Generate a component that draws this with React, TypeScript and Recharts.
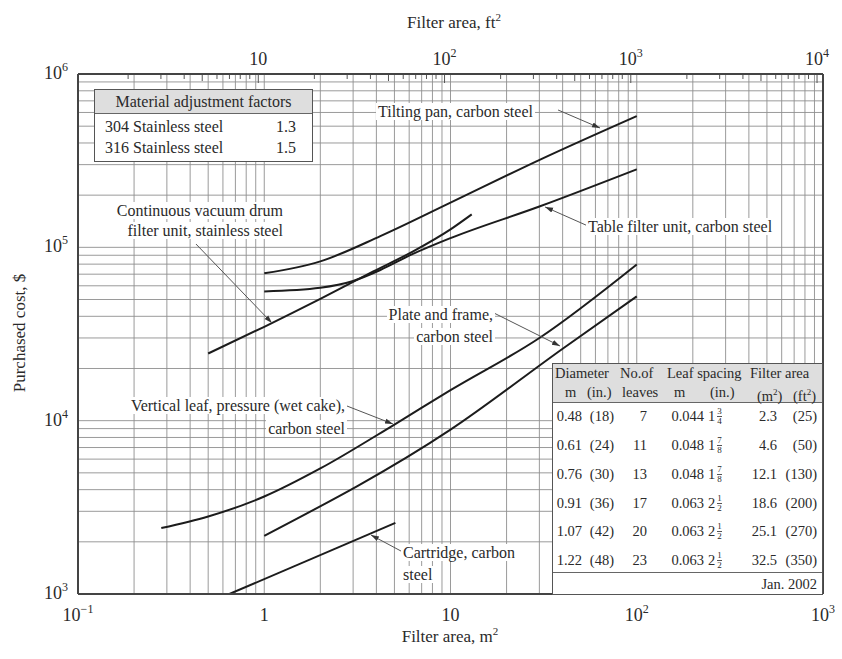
import React from "react";
import { LineChart, Line, XAxis, YAxis, CartesianGrid, ReferenceLine } from "recharts";

// ---- curves: filter area (m2) -> purchased cost ($) ----
const tiltingPanArea = [1, 2, 4.2, 10, 30.5, 100];
const tiltingPanCost = [70800, 83000, 116000, 181000, 322000, 572000];

const tableFilterArea = [1, 2, 3, 4.2, 6.2, 10, 30, 100];
const tableFilterCost = [55700, 58500, 64000, 74000, 91000, 113000, 172000, 282000];

const drumArea = [0.5, 1, 2, 3.85, 6.3, 10, 13];
const drumCost = [24400, 34800, 50400, 72600, 94800, 127000, 155000];

const vertLeafArea = [0.28, 0.5, 1, 2, 5, 10, 30, 100];
const vertLeafCost = [2400, 2800, 3650, 5300, 9500, 15000, 30000, 79700];

const plateArea = [1, 10, 40, 100];
const plateCost = [2165, 8870, 26000, 52100];

const cartridgeArea = [0.65, 5.06];
const cartridgeCost = [1000, 2570];

// ---- axes ----
const areaMajor = [0.1, 1, 10, 100, 1000];
const costMajor = [1e3, 1e4, 1e5, 1e6];
const ft2Major = [10, 100, 1000, 10000];
const minorSteps = [2, 3, 4, 5, 6, 7, 8, 9];
const M2_TO_FT2 = 10.764;

// ---- tables ----
const materials = ["304 Stainless steel", "316 Stainless steel"];
const materialFactors = ["1.3", "1.5"];

const diameterM = ["0.48", "0.61", "0.76", "0.91", "1.07", "1.22"];
const diameterIn = ["(18)", "(24)", "(30)", "(36)", "(42)", "(48)"];
const leafCount = ["7", "11", "13", "17", "20", "23"];
const spacingM = ["0.044", "0.048", "0.048", "0.063", "0.063", "0.063"];
const spacingIn = [["1", "3", "4"], ["1", "7", "8"], ["1", "7", "8"], ["2", "1", "2"], ["2", "1", "2"], ["2", "1", "2"]];
const areaM2 = ["2.3", "4.6", "12.1", "18.6", "25.1", "32.5"];
const areaFt2 = ["(25)", "(50)", "(130)", "(200)", "(270)", "(350)"];

// leader arrows, in data units (m2, $)
const arrows = [
  { from: [37.8, 620000], to: [63.5, 488000] },
  { from: [54.7, 132800], to: [32.2, 171000] },
  { from: [0.43, 104500], to: [1.1, 36600] },
  { from: [17.1, 41800], to: [38.7, 26970] },
  { from: [2.78, 12150], to: [4.91, 9570] },
  { from: [5.42, 1770], to: [3.74, 2190] },
];

const SERIF = '"Liberation Serif", "Times New Roman", "DejaVu Serif", serif';
const INK = "#2a2a2a";
const CURVE = "#1c1c1c";

const pts = (xs: number[], ys: number[]) => xs.map((x, i) => ({ x, y: ys[i] }));
const withMinors = (majors: number[], lo: number, hi: number) => {
  const out: number[] = [];
  for (const m of majors) {
    out.push(m);
    for (const s of minorSteps) out.push(m * s);
  }
  for (const s of minorSteps) out.push((majors[0] / 10) * s);
  return out.filter((v) => v >= lo * 0.9999 && v <= hi * 1.0001).sort((a, b) => a - b);
};
const isMajor = (v: number, majors: number[]) => majors.some((m) => Math.abs(v - m) / m < 1e-6);

const areaTicks = withMinors(areaMajor, 0.1, 1000);
const costTicks = withMinors(costMajor, 1e3, 1e6);
const ft2Ticks = withMinors(ft2Major, 0.1 * M2_TO_FT2, 1000 * M2_TO_FT2);

function PowText({ x, y, value, anchor = "middle" }: { x: number; y: number; value: number; anchor?: string }) {
  const e = Math.round(Math.log10(value));
  const base = { x, y, textAnchor: anchor as any, fontFamily: SERIF, fontSize: 18, fill: INK };
  if (e === 0) return <text {...base}>1</text>;
  if (e === 1) return <text {...base}>10</text>;
  return (
    <text {...base}>
      <tspan>10</tspan>
      <tspan dy={-8} fontSize={12}>{e < 0 ? "\u2212" + -e : String(e)}</tspan>
    </text>
  );
}

function BottomTick(p: any) {
  const v = p.payload?.value;
  if (!isMajor(v, areaMajor)) return <g />;
  return <PowText x={p.x} y={p.y + 27} value={v} />;
}

function LeftTick(p: any) {
  const v = p.payload?.value;
  if (!isMajor(v, costMajor)) return <g />;
  return <PowText x={p.x - 10} y={p.y + 5} value={v} anchor="end" />;
}

// ft2 scale along the top edge, drawn on the m2 axis
function Ft2Tick({ p, v }: { p: any; v: number }) {
  const major = isMajor(v, ft2Major);
  const mant = Math.round(v / Math.pow(10, Math.floor(Math.log10(v) + 1e-9)));
  const len = major ? 9 : mant === 5 ? 7 : 5;
  const top = Math.min(p.y1, p.y2);
  return (
    <g>
      <line x1={p.x1} x2={p.x1} y1={top} y2={top + len} stroke="#555" strokeWidth={1} />
      {major && <PowText x={p.x1} y={top - 9} value={v} />}
    </g>
  );
}

const labelBox: React.CSSProperties = {
  position: "absolute",
  fontFamily: SERIF,
  fontSize: 16,
  color: INK,
  whiteSpace: "nowrap",
};
const bg: React.CSSProperties = { background: "#fff", padding: "0 2px" };

function Note({ lines, left, top, width, align, lh = 21 }: { lines: string[]; left: number; top: number; width: number; align: "left" | "right"; lh?: number }) {
  return (
    <div style={{ ...labelBox, left, top, width, textAlign: align, lineHeight: lh + "px" }}>
      {lines.map((l, i) => (
        <div key={i}><span style={bg}>{l}</span></div>
      ))}
    </div>
  );
}

function Frac({ w, n, d }: { w: string; n: string; d: string }) {
  return (
    <span style={{ display: "inline-flex", alignItems: "center" }}>
      <span>{w}</span>
      <span style={{ display: "inline-flex", flexDirection: "column", fontSize: 9, lineHeight: "9px", marginLeft: 2, textAlign: "center" }}>
        <span style={{ borderBottom: "0.8px solid #555" }}>{n}</span>
        <span>{d}</span>
      </span>
    </span>
  );
}

function Cell({ right, left, cy, children }: { right?: number; left?: number; cy: number; children: React.ReactNode }) {
  const s: React.CSSProperties = { position: "absolute", top: cy - 10, height: 20, lineHeight: "20px", whiteSpace: "nowrap" };
  if (right !== undefined) Object.assign(s, { left: right - 80, width: 80, textAlign: "right" });
  else Object.assign(s, { left });
  return <div style={s}>{children}</div>;
}

function SpecTable() {
  const rowY = [52, 81, 110, 139, 167, 196];
  return (
    <div style={{ position: "absolute", left: 552, top: 363, width: 271, height: 232, boxSizing: "border-box", border: "1.5px solid #555", background: "#fff", fontFamily: SERIF, fontSize: 14.5, color: INK }}>
      <div style={{ position: "absolute", left: 0, top: 0, right: 0, height: 38, background: "#dedede", borderBottom: "1.5px solid #666" }} />
      <Cell left={2} cy={9}>Diameter</Cell>
      <Cell left={67} cy={9}>No.of</Cell>
      <Cell left={114} cy={9}>Leaf spacing</Cell>
      <Cell left={197} cy={9}>Filter area</Cell>
      <Cell left={12} cy={28}>m</Cell>
      <Cell left={34} cy={28}>(in.)</Cell>
      <Cell left={69} cy={28}>leaves</Cell>
      <Cell left={121} cy={28}>m</Cell>
      <Cell left={157} cy={28}>(in.)</Cell>
      <Cell left={204} cy={28}>(m<sup style={{ fontSize: 9 }}>2</sup>)</Cell>
      <Cell left={240} cy={28}>(ft<sup style={{ fontSize: 9 }}>2</sup>)</Cell>
      {rowY.map((cy, i) => (
        <React.Fragment key={i}>
          <Cell right={29} cy={cy}>{diameterM[i]}</Cell>
          <Cell right={61} cy={cy}>{diameterIn[i]}</Cell>
          <Cell right={94} cy={cy}>{leafCount[i]}</Cell>
          <Cell right={151} cy={cy}>{spacingM[i]}</Cell>
          <Cell left={155} cy={cy}><Frac w={spacingIn[i][0]} n={spacingIn[i][1]} d={spacingIn[i][2]} /></Cell>
          <Cell right={224} cy={cy}>{areaM2[i]}</Cell>
          <Cell right={264} cy={cy}>{areaFt2[i]}</Cell>
        </React.Fragment>
      ))}
      <div style={{ position: "absolute", left: 0, right: 0, top: 208, borderTop: "1.5px solid #666" }} />
      <Cell right={264} cy={220}>Jan. 2002</Cell>
    </div>
  );
}

function MaterialTable() {
  return (
    <div style={{ position: "absolute", left: 94, top: 89, width: 219, height: 73, boxSizing: "border-box", border: "1.5px solid #555", background: "#fff", fontFamily: SERIF, fontSize: 16, color: INK }}>
      <div style={{ height: 23, lineHeight: "23px", textAlign: "center", background: "#dedede", borderBottom: "1.5px solid #666" }}>
        Material adjustment factors
      </div>
      {materials.map((m, i) => (
        <div key={m} style={{ position: "absolute", left: 10, right: 16, top: 26 + i * 21, height: 21, lineHeight: "21px", display: "flex", justifyContent: "space-between" }}>
          <span>{m}</span>
          <span>{materialFactors[i]}</span>
        </div>
      ))}
    </div>
  );
}

export default function App() {
  const curves = [
    pts(tiltingPanArea, tiltingPanCost),
    pts(tableFilterArea, tableFilterCost),
    pts(drumArea, drumCost),
    pts(vertLeafArea, vertLeafCost),
    pts(plateArea, plateCost),
    pts(cartridgeArea, cartridgeCost),
  ];

  return (
    <div style={{ position: "absolute", left: 0, top: 0, width: 842, height: 659, background: "#fff", overflow: "hidden" }}>
      <svg width={0} height={0} style={{ position: "absolute" }}>
        <defs>
          <marker id="arrowHead" viewBox="0 0 10 10" refX={10} refY={5} markerWidth={8} markerHeight={8} orient="auto">
            <path d="M0,1.8 L10,5 L0,8.2 z" fill="#333" />
          </marker>
        </defs>
      </svg>

      <LineChart width={842} height={659} margin={{ top: 74, right: 19, bottom: 25, left: 18 }}>
        <CartesianGrid stroke="#8e8e8e" strokeWidth={0.9} />
        <XAxis
          dataKey="x" type="number" scale="log" domain={[0.1, 1000]} allowDataOverflow
          ticks={areaTicks} interval={0} height={40} tickSize={0} tickMargin={0}
          axisLine={false} tickLine={false} tick={(p: any) => <BottomTick {...p} />}
        />
        <YAxis
          type="number" scale="log" domain={[1e3, 1e6]} allowDataOverflow
          ticks={costTicks} interval={0} width={60} tickSize={0} tickMargin={0}
          axisLine={false} tickLine={false} tick={(p: any) => <LeftTick {...p} />}
        />

        {curves.map((d, i) => (
          <Line
            key={i} data={d} dataKey="y" type="monotone" stroke={CURVE}
            strokeWidth={2} dot={false} activeDot={false} isAnimationActive={false}
          />
        ))}

        {arrows.map((a, i) => (
          <ReferenceLine
            key={"a" + i}
            segment={[{ x: a.from[0], y: a.from[1] }, { x: a.to[0], y: a.to[1] }]}
            stroke="#555" strokeWidth={1}
            shape={(p: any) => (
              <line x1={p.x1} y1={p.y1} x2={p.x2} y2={p.y2} stroke="#555" strokeWidth={1} markerEnd="url(#arrowHead)" />
            )}
          />
        ))}

        {ft2Ticks.map((v) => (
          <ReferenceLine
            key={"ft" + v} x={v / M2_TO_FT2} stroke="#555"
            shape={(p: any) => <Ft2Tick p={p} v={v} />}
          />
        ))}

        <ReferenceLine x={0.1} stroke="#444" strokeWidth={2} />
        <ReferenceLine x={1000} stroke="#444" strokeWidth={2} />
        <ReferenceLine y={1e3} stroke="#444" strokeWidth={2} />
        <ReferenceLine y={1e6} stroke="#444" strokeWidth={2} />
      </LineChart>

      <MaterialTable />
      <SpecTable />

      <Note lines={["Tilting pan, carbon steel"]} left={376} top={101} width={200} align="left" />
      <Note lines={["Table filter unit, carbon steel"]} left={586} top={216} width={220} align="left" />
      <Note lines={["Continuous vacuum drum", "filter unit, stainless steel"]} left={60} top={201} width={225} align="right" lh={20} />
      <Note lines={["Plate and frame,", "carbon steel"]} left={300} top={304} width={195} align="right" lh={22} />
      <Note lines={["Vertical leaf, pressure (wet cake),", "carbon steel"]} left={90} top={394} width={257} align="right" lh={23} />
      <Note lines={["Cartridge, carbon", "steel"]} left={401} top={542} width={140} align="left" lh={22} />

      <div style={{ ...labelBox, fontSize: 17, left: 454, top: 22, transform: "translate(-50%, -50%)" }}>
        Filter area, ft<sup style={{ fontSize: 11 }}>2</sup>
      </div>
      <div style={{ ...labelBox, fontSize: 17, left: 450, top: 636, transform: "translate(-50%, -50%)" }}>
        Filter area, m<sup style={{ fontSize: 11 }}>2</sup>
      </div>
      <div style={{ ...labelBox, fontSize: 17, left: 20, top: 333, transform: "translate(-50%, -50%) rotate(-90deg)" }}>
        Purchased cost, $
      </div>
    </div>
  );
}
